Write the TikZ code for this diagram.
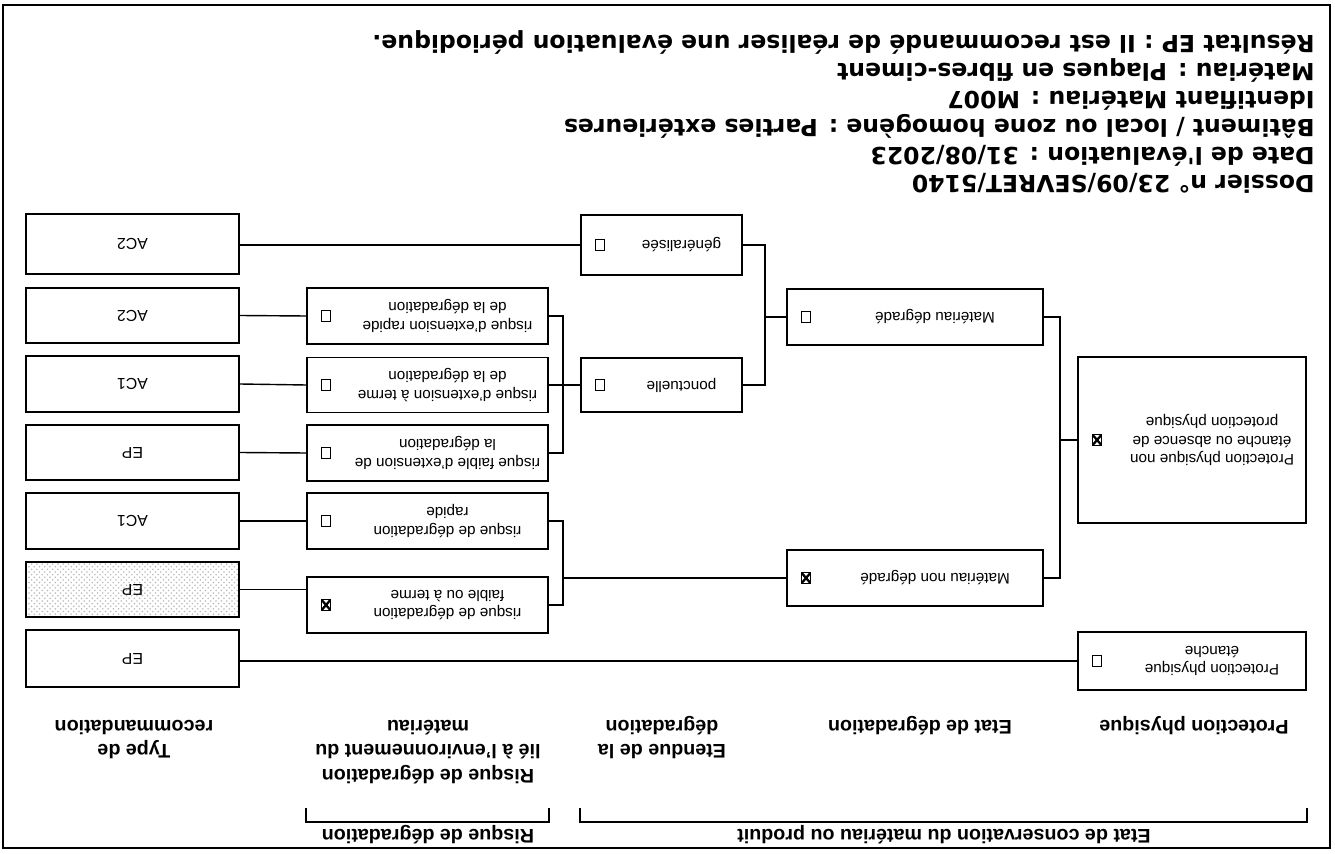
\documentclass[tikz,border=0pt]{standalone}
\usepackage{fontspec}
\setmainfont{Liberation Sans}
\newfontfamily\infofont{DejaVu Sans}
\usetikzlibrary{calc,patterns}

% case a cocher : boite, texte decale a gauche, case pres du bord droit
\newcommand{\choix}[6]{%
  \node[boite, minimum width=#3, minimum height=#4] (#1) at #2 {};
  \node[texte] (#1-txt) at ($(#1.center)+(-20,0)$) {#5};
  \node[#6] (#1-case) at ($(#1.east)+(-20,0)$) {};
}

\begin{document}
\begin{tikzpicture}[x=0.02cm, y=0.02cm, rotate=180, transform shape,
    boite/.style={draw, line width=1.1pt, inner sep=0pt},
    texte/.style={font=\fontsize{8.7}{10.5}\selectfont, align=center, inner sep=0pt},
    vide/.style={draw, line width=0.7pt, minimum width=0.19cm, minimum height=0.22cm, inner sep=0pt},
    coche/.style={vide, path picture={\draw[line width=1.3pt]
        (path picture bounding box.north west) -- (path picture bounding box.south east)
        (path picture bounding box.north east) -- (path picture bounding box.south west);}},
    reco/.style={boite, minimum width=4.26cm, minimum height=1.12cm, font=\fontsize{9}{11}\selectfont},
    lien/.style={line width=0.8pt},
    entete/.style={font=\bfseries\fontsize{11.2}{14}\selectfont, align=center, inner sep=0pt, text depth=0pt, anchor=south},
    infos/.style={font=\infofont\bfseries\fontsize{13.4}{16}\selectfont, inner sep=0pt, anchor=base west}]
    \useasboundingbox (0,0) rectangle (1335,854);
    \draw[line width=0.7pt] (5,5) rectangle (1332,848);
    \draw[line width=1.4pt] (5,5) -- (1332,5);

    % titres de colonnes
    \node[entete, anchor=base] (g1) at (391,829) {Etat de conservation du mat\'eriau ou produit};
    \node[entete, anchor=base] (g2) at (907,829) {Risque de d\'egradation};
    \node[entete] (h1) at (141,720) {Protection physique};
    \node[entete] (h2) at (415,720) {Etat de d\'egradation};
    \node[entete] (h3) at (673,720) {Etendue de la\\d\'egradation};
    \node[entete] (h4) at (907,720) {Risque de d\'egradation\\li\'e \`a l'environnement du\\mat\'eriau};
    \node[entete] (h5) at (1201,720) {Type de\\recommandation};

    % protection physique
    \choix{p1}{(143,661)}{4.56cm}{1.16cm}{Protection physique\\\'etanche}{vide}
    \choix{p2}{(143,440)}{4.56cm}{3.32cm}{Protection physique non\\\'etanche ou absence de\\protection physique}{coche}
    % etat de degradation
    \choix{d1}{(420,578)}{5.12cm}{1.12cm}{Mat\'eriau non d\'egrad\'e}{coche}
    \choix{d2}{(420,317)}{5.12cm}{1.12cm}{Mat\'eriau d\'egrad\'e}{vide}
    % etendue
    \choix{e1}{(673.5,385)}{3.22cm}{1.08cm}{ponctuelle}{vide}
    \choix{e2}{(673.5,245)}{3.22cm}{1.2cm}{g\'en\'eralis\'ee}{vide}
    % risque
    \choix{r1}{(907.5,316)}{4.82cm}{1.12cm}{risque d'extension rapide\\de la d\'egradation}{vide}
    \choix{r2}{(907.5,385)}{4.82cm}{1.1cm}{risque d'extension \`a terme\\de la d\'egradation}{vide}
    \choix{r3}{(907.5,453)}{4.82cm}{1.12cm}{risque faible d'extension de\\la d\'egradation}{vide}
    \choix{r4}{(907.5,521)}{4.82cm}{1.12cm}{risque de d\'egradation\\rapide}{vide}
    \choix{r5}{(907.5,605)}{4.82cm}{1.12cm}{risque de d\'egradation\\faible ou \`a terme}{coche}

    % recommandations
    \node[reco, minimum height=1.2cm] (t1) at (1202.5,244) {AC2};
    \node[reco, minimum height=1.1cm] (t2) at (1202.5,315.5) {AC2};
    \node[reco] (t3) at (1202.5,384) {AC1};
    \node[reco, minimum height=1.1cm] (t4) at (1202.5,452.5) {EP};
    \node[reco] (t5) at (1202.5,521) {AC1};
    \node[reco, minimum height=1.1cm, pattern=crosshatch dots, pattern color=gray!55] (t6) at (1202.5,589.5) {EP};
    \node[reco, minimum height=1.14cm] (t7) at (1202.5,658.5) {EP};

    % accolades sous les titres
    \draw[lien] (p2.west |- 0,808) |- (e1.east |- 0,822) -- (e1.east |- 0,808);
    \draw[lien] (r1.west |- 0,808) |- (r1.east |- 0,822) -- (r1.east |- 0,808);

    % liaisons
    \coordinate (j1) at (275,440);
    \coordinate (j2) at (570,317);
    \coordinate (j3) at (772,385);
    \coordinate (j4) at (772,578);
    \draw[lien] (p1.east) -- (p1.east -| t7.west);
    \draw[lien] (p2.east) -- (j1);
    \draw[lien] (d1.west) -| (j1) |- (d2.west);
    \draw[lien] (d2.east) -- (j2);
    \draw[lien] (e1.west) -| (j2) |- (e2.west);
    \draw[lien] (e2.east) -- (e2.east -| t1.west);
    \draw[lien] (e1.east) -- (j3);
    \draw[lien] (r1.west) -| (j3) |- (r3.west);
    \draw[lien] (r2.west) -- (j3);
    \draw[lien] (d1.east) -- (j4);
    \draw[lien] (r4.west) -| (j4) |- (r5.west);
    \draw[lien] (r1.east) -- (t2.west);
    \draw[lien] (r2.east) -- (t3.west);
    \draw[lien] (r3.east) -- (t4.west);
    \draw[lien] (r4.east) -- (t5.west);
    \draw[lien] (t6.west -| r5.east) -- (t6.west);

    % fiche
    \foreach \ligne [count=\i] in {Dossier n° 23/09/SEVRET/5140,
        Date de l'\'evaluation : 31/08/2023,
        B\^atiment / local ou zone homog\`ene : Parties ext\'erieures,
        Identifiant Mat\'eriau : M007,
        Mat\'eriau : Plaques en fibres-ciment,
        R\'esultat EP : Il est recommand\'e de r\'ealiser une \'evaluation p\'eriodique.}
      \node[infos] (info\i) at (20,204-28*\i) {\ligne};
\end{tikzpicture}
\end{document}
